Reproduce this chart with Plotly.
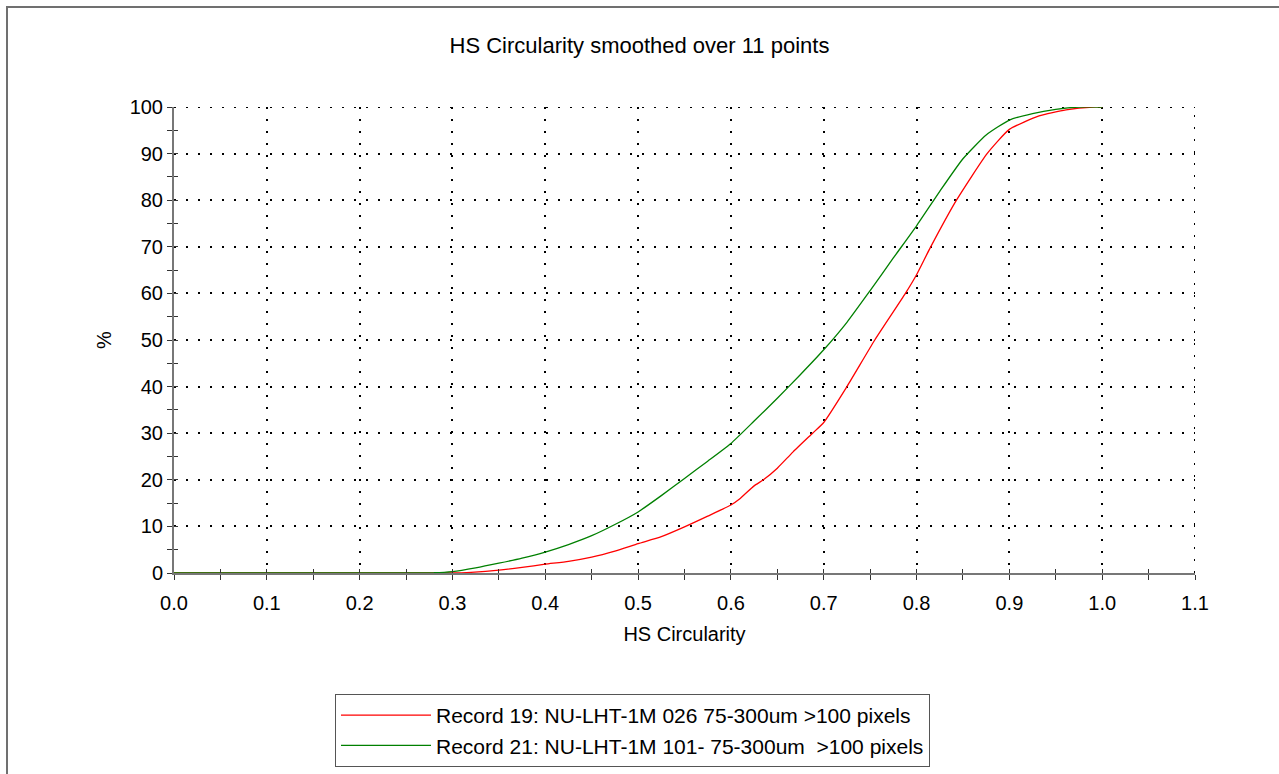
import plotly.graph_objects as go

# ---- data ----
series_names = [
    "Record 19: NU-LHT-1M 026 75-300um >100 pixels",
    "Record 21: NU-LHT-1M 101- 75-300um \u00a0>100 pixels",
]

red_x = [0.0, 0.30, 0.32, 0.35, 0.375, 0.40, 0.425, 0.45, 0.475, 0.50, 0.525, 0.55,
         0.575, 0.60, 0.61, 0.625, 0.635, 0.65, 0.667, 0.688, 0.70, 0.725, 0.755,
         0.788, 0.80, 0.814, 0.843, 0.876, 0.90, 0.932, 0.961, 0.99, 1.0]
red_y = [0, 0, 0.15, 0.6, 1.2, 1.9, 2.5, 3.4, 4.7, 6.3, 7.8, 9.9,
         12.2, 14.6, 16.0, 18.7, 20.0, 22.5, 26.0, 30.0, 32.3, 40.0, 50.0,
         60.0, 64.0, 69.5, 80.0, 90.0, 95.2, 98.1, 99.4, 100, 100]

green_x = [0.0, 0.28, 0.30, 0.325, 0.35, 0.375, 0.40, 0.425, 0.45, 0.475, 0.50, 0.525,
           0.55, 0.575, 0.60, 0.625, 0.65, 0.675, 0.70, 0.725, 0.75, 0.775, 0.80,
           0.825, 0.85, 0.875, 0.90, 0.925, 0.95, 0.975, 1.0]
green_y = [0, 0.05, 0.3, 1.1, 2.1, 3.2, 4.5, 6.1, 8.0, 10.4, 13.1, 16.6,
           20.3, 24.0, 27.8, 32.6, 37.5, 42.6, 47.9, 53.8, 60.6, 67.6, 74.5,
           81.9, 88.9, 94.0, 97.2, 98.6, 99.5, 100, 100]

x_ticks = [0.0, 0.1, 0.2, 0.3, 0.4, 0.5, 0.6, 0.7, 0.8, 0.9, 1.0, 1.1]
x_tick_text = ["0.0", "0.1", "0.2", "0.3", "0.4", "0.5", "0.6", "0.7", "0.8", "0.9", "1.0", "1.1"]
y_ticks = [0, 10, 20, 30, 40, 50, 60, 70, 80, 90, 100]

title_text = "HS Circularity smoothed over 11 points"
x_title = "HS Circularity"
y_title = "%"

FONT = "Liberation Sans, Arial, sans-serif"
W, H = 1279, 774
L, R, T, B = 174, 84, 107, 201
PW, PH = W - L - R, H - T - B
X_RANGE = [x_ticks[0], x_ticks[-1]]
Y_RANGE = [y_ticks[0], y_ticks[-1]]

fig = go.Figure()
fig.add_trace(go.Scatter(x=red_x, y=red_y, mode="lines", name=series_names[0],
                         line=dict(color="#ff0000", width=1.3, shape="spline", smoothing=0.5)))
fig.add_trace(go.Scatter(x=green_x, y=green_y, mode="lines", name=series_names[1],
                         line=dict(color="#008000", width=1.3, shape="spline", smoothing=0.5)))
# empty helper traces so that the overlaid tick-only axes get drawn
fig.add_trace(go.Scatter(x=[], y=[], xaxis="x2", yaxis="y", showlegend=False, hoverinfo="skip"))
fig.add_trace(go.Scatter(x=[], y=[], xaxis="x", yaxis="y2", showlegend=False, hoverinfo="skip"))

DOT = "2px,10px"
grid = dict(showgrid=True, gridcolor="black", gridwidth=2, griddash=DOT)
TICKC = "#333333"

fig.update_layout(
    width=W, height=H,
    margin=dict(l=L, r=R, t=T, b=B, pad=0, autoexpand=False),
    paper_bgcolor="white", plot_bgcolor="white",
    font=dict(family=FONT, size=20, color="black"),
    title=dict(text=title_text, x=0.5, xref="container", xanchor="center",
               y=1 - 45 / H, yref="container", yanchor="middle",
               font=dict(family=FONT, size=22, color="black")),
    showlegend=True,
    legend=dict(x=(335 - L) / PW, y=(573 - 694) / PH, xanchor="left", yanchor="top",
                bordercolor="#555555", borderwidth=1, bgcolor="white",
                font=dict(family=FONT, size=21, color="black"),
                itemwidth=90, tracegroupgap=0),
    xaxis=dict(range=X_RANGE, tickvals=x_ticks, ticktext=x_tick_text,
               ticks="outside", ticklen=5, tickwidth=1, tickcolor=TICKC,
               ticklabelstandoff=6,
               minor=dict(dtick=0.05, tick0=0, ticks="outside", ticklen=5,
                          tickcolor=TICKC, showgrid=False),
               showline=True, linecolor="#777777", linewidth=2,
               zeroline=False, mirror=False,
               title=dict(text=x_title, standoff=14, font=dict(size=20)),
               **grid),
    yaxis=dict(range=Y_RANGE, tickvals=y_ticks,
               ticks="outside", ticklen=5, tickwidth=1, tickcolor=TICKC,
               minor=dict(dtick=5, tick0=0, ticks="outside", ticklen=5,
                          tickcolor=TICKC, showgrid=False),
               showline=True, linecolor="#777777", linewidth=2,
               zeroline=False, mirror=False,
               title=dict(text=y_title, standoff=13, font=dict(size=20)),
               **grid),
    xaxis2=dict(range=X_RANGE, overlaying="x", anchor="y", side="bottom",
                tickvals=x_ticks, showticklabels=False, ticks="inside", ticklen=4,
                tickcolor=TICKC,
                minor=dict(dtick=0.05, tick0=0, ticks="inside", ticklen=4,
                           tickcolor=TICKC, showgrid=False),
                showgrid=False, showline=False, zeroline=False),
    yaxis2=dict(range=Y_RANGE, overlaying="y", anchor="x", side="left",
                tickvals=y_ticks, showticklabels=False, ticks="inside", ticklen=4,
                tickcolor=TICKC,
                minor=dict(dtick=5, tick0=0, ticks="inside", ticklen=4,
                           tickcolor=TICKC, showgrid=False),
                showgrid=False, showline=False, zeroline=False),
)

# dotted grid lines at the upper ends of both ranges (plotly omits edge grid lines)
fig.add_shape(type="line", xref="x", yref="y", x0=X_RANGE[0], x1=X_RANGE[1],
              y0=Y_RANGE[1], y1=Y_RANGE[1], layer="below",
              line=dict(color="black", width=2, dash=DOT))
fig.add_shape(type="line", xref="x", yref="y", x0=X_RANGE[1], x1=X_RANGE[1],
              y0=Y_RANGE[0], y1=Y_RANGE[1], layer="below",
              line=dict(color="black", width=2, dash=DOT))

# outer frame (top and left edges only, as in the reference)
fx0 = (7 - L) / PW
fy0 = (H - B - 7) / PH
fx1 = (W - L) / PW
fyb = (H - B - H) / PH
fig.add_shape(type="path", xref="paper", yref="paper",
              path=f"M {fx0},{fyb} L {fx0},{fy0} L {fx1},{fy0}",
              line=dict(color="#707070", width=2), layer="above")

fig.write_html("out.html", config={"displayModeBar": False},
               post_script="document.body.style.margin='0';")
